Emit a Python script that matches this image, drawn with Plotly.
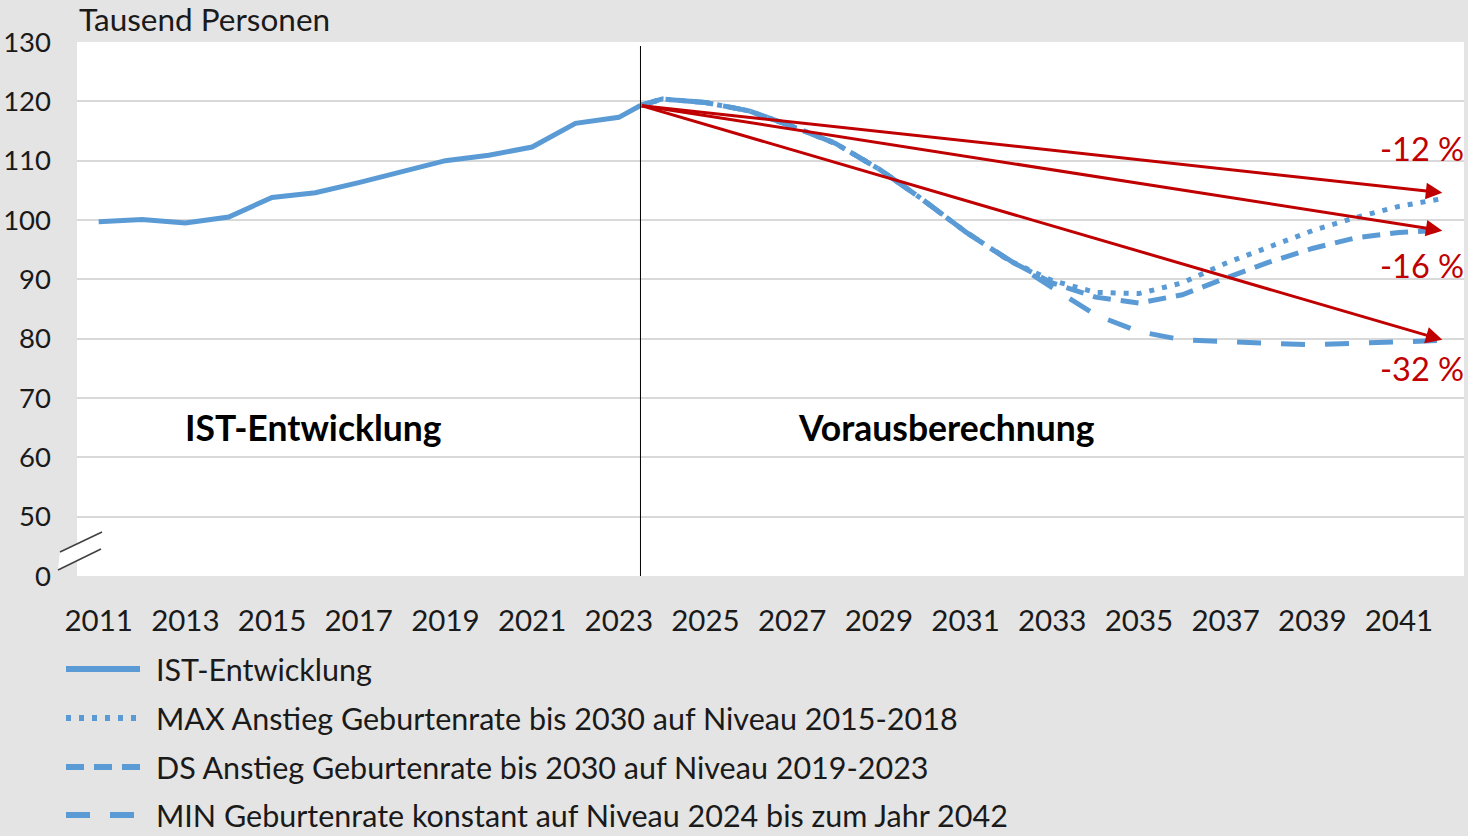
import plotly.graph_objects as go

# ---------------- data ----------------
ist_years = [2011, 2012, 2013, 2014, 2015, 2016, 2017, 2018, 2019, 2020, 2021, 2022, 2023, 2023.5]
ist_values = [99.7, 100.1, 99.5, 100.5, 103.8, 104.6, 106.3, 108.1, 110.0, 110.9, 112.3, 116.3, 117.3, 119.3]

fc_years = [2023.5, 2024, 2025, 2026, 2027, 2028, 2029, 2030, 2031, 2032, 2033,
            2034, 2035, 2036, 2037, 2038, 2039, 2040, 2041, 2042]
max_values = [119.3, 120.4, 119.8, 118.4, 115.8, 112.9, 108.6, 103.5, 98.0, 93.2, 89.8,
              87.8, 87.6, 89.4, 92.7, 95.5, 98.2, 100.4, 102.3, 103.6]
ds_values = [119.3, 120.4, 119.8, 118.4, 115.8, 112.9, 108.6, 103.5, 98.0, 93.2, 89.4,
             87.0, 86.0, 87.4, 90.2, 92.9, 95.2, 97.0, 97.9, 98.3]
min_values = [119.3, 120.4, 119.8, 118.4, 115.8, 112.9, 108.6, 103.5, 98.0, 93.2, 88.6,
              84.0, 81.2, 79.8, 79.4, 79.2, 79.0, 79.2, 79.5, 79.7]

series_names = [
    "IST-Entwicklung",
    "MAX Anstieg Geburtenrate bis 2030 auf Niveau 2015-2018",
    "DS Anstieg Geburtenrate bis 2030 auf Niveau 2019-2023",
    "MIN Geburtenrate konstant auf Niveau 2024 bis zum Jahr 2042",
]

# trend arrows (start of forecast -> 2042)
arrow_start_year = 2023.5
arrow_start_value = 119.3
arrow_end_year = 2042
arrow_end_values = [104.6, 98.2, 79.8]
arrow_labels = ["-12 %", "-16 %", "-32 %"]
arrow_label_values = [112.1, 92.4, 75.0]

y_tickvals = [40, 50, 60, 70, 80, 90, 100, 110, 120, 130]
y_ticktext = ["0", "50", "60", "70", "80", "90", "100", "110", "120", "130"]
x_tickvals = list(range(2011, 2042, 2))

# ---------------- styling ----------------
BLUE = "#5b9bd5"
RED = "#c00000"
BG = "#e4e4e4"
GRID = "#d9d9d9"
TXT = "#1a1a1a"
FONT = "Lato"

W, H = 1468, 836
L, R, T, B = 77, 4, 42, 260
pw, ph = W - L - R, H - T - B


def px_x(px):
    return (px - L) / pw


def px_y(py):
    return (H - B - py) / ph


dashes = [None, "5px,8px", "18px,10px", "24px,20px"]

fig = go.Figure()
fig.add_trace(go.Scatter(x=ist_years, y=ist_values, mode="lines", name=series_names[0],
                         line=dict(color=BLUE, width=5), showlegend=False))
fig.add_trace(go.Scatter(x=fc_years, y=max_values, mode="lines", name=series_names[1],
                         line=dict(color=BLUE, width=5, dash=dashes[1]), showlegend=False))
fig.add_trace(go.Scatter(x=fc_years, y=ds_values, mode="lines", name=series_names[2],
                         line=dict(color=BLUE, width=5, dash=dashes[2]), showlegend=False))
fig.add_trace(go.Scatter(x=fc_years, y=min_values, mode="lines", name=series_names[3],
                         line=dict(color=BLUE, width=5, dash=dashes[3]), showlegend=False))

shapes = []
# vertical separator
shapes.append(dict(type="line", xref="x", yref="paper", x0=arrow_start_year, x1=arrow_start_year,
                   y0=0, y1=px_y(46), line=dict(color="#000000", width=1)))
# axis break marks
poly = "M {} {} L {} {} L {} {} L {} {} Z".format(
    px_x(58), px_y(570), px_x(60), px_y(552), px_x(102), px_y(532), px_x(101), px_y(549))
shapes.append(dict(type="path", xref="paper", yref="paper", path=poly,
                   fillcolor="white", line=dict(width=0)))
shapes.append(dict(type="line", xref="paper", yref="paper", x0=px_x(60), y0=px_y(552),
                   x1=px_x(102), y1=px_y(532), line=dict(color="#404040", width=1.5)))
shapes.append(dict(type="line", xref="paper", yref="paper", x0=px_x(58), y0=px_y(570),
                   x1=px_x(101), y1=px_y(549), line=dict(color="#404040", width=1.5)))

annotations = []
# legend (manual)
legend_rows = [669, 718, 767, 815]
for i, name in enumerate(series_names):
    yy = px_y(legend_rows[i])
    ln = dict(color=BLUE, width=6)
    if dashes[i]:
        ln["dash"] = dashes[i]
    shapes.append(dict(type="line", xref="paper", yref="paper", x0=px_x(66), x1=px_x(140),
                       y0=yy, y1=yy, line=ln))
    annotations.append(dict(xref="paper", yref="paper", x=px_x(154), y=yy, text=name,
                            showarrow=False, xanchor="left", yanchor="middle",
                            font=dict(family=FONT, size=30.5, color=TXT)))

# arrows
for v in arrow_end_values:
    annotations.append(dict(x=arrow_end_year, y=v, ax=arrow_start_year, ay=arrow_start_value,
                            xref="x", yref="y", axref="x", ayref="y", text="",
                            showarrow=True, arrowhead=2, arrowsize=1.1, arrowwidth=3,
                            arrowcolor=RED, standoff=0, startstandoff=0))
for lab, v in zip(arrow_labels, arrow_label_values):
    annotations.append(dict(x=2041.52, y=v, xref="x", yref="y", text=lab, showarrow=False,
                            xanchor="center", yanchor="middle",
                            font=dict(family=FONT, size=32.5, color=RED)))

# region labels
annotations.append(dict(x=2015.96, y=65.0, xref="x", yref="y", text="<b>IST-Entwicklung</b>",
                        showarrow=False, font=dict(family=FONT, size=35.5, color="#000000")))
annotations.append(dict(x=2030.57, y=65.0, xref="x", yref="y", text="<b>Vorausberechnung</b>",
                        showarrow=False, font=dict(family=FONT, size=35.5, color="#000000")))
# unit label
annotations.append(dict(xref="paper", yref="paper", x=px_x(77), y=px_y(19), text="Tausend Personen",
                        showarrow=False, xanchor="left", yanchor="middle",
                        font=dict(family=FONT, size=31.5, color=TXT)))

fig.update_layout(
    width=W, height=H,
    margin=dict(l=L, r=R, t=T, b=B, autoexpand=False),
    paper_bgcolor=BG, plot_bgcolor="white",
    font=dict(family=FONT, size=29.5, color=TXT),
    shapes=shapes, annotations=annotations,
    showlegend=False,
)
fig.update_xaxes(range=[2010.5, 2042.5], tickvals=x_tickvals, ticktext=[str(v) for v in x_tickvals],
                 showgrid=False, zeroline=False, showline=False, ticks="", automargin=False,
                 ticklabelstandoff=24, tickfont=dict(family=FONT, size=29.5, color=TXT))
fig.update_yaxes(range=[40, 130], tickvals=y_tickvals, ticktext=y_ticktext, automargin=False,
                 showgrid=True, gridcolor=GRID, gridwidth=2, zeroline=False, showline=False,
                 ticks="", ticklabelstandoff=25, tickfont=dict(family=FONT, size=27.5, color=TXT))

fig.write_html("out.html", config={"displayModeBar": False},
               post_script="document.body.style.margin='0';document.body.style.overflow='hidden';")
